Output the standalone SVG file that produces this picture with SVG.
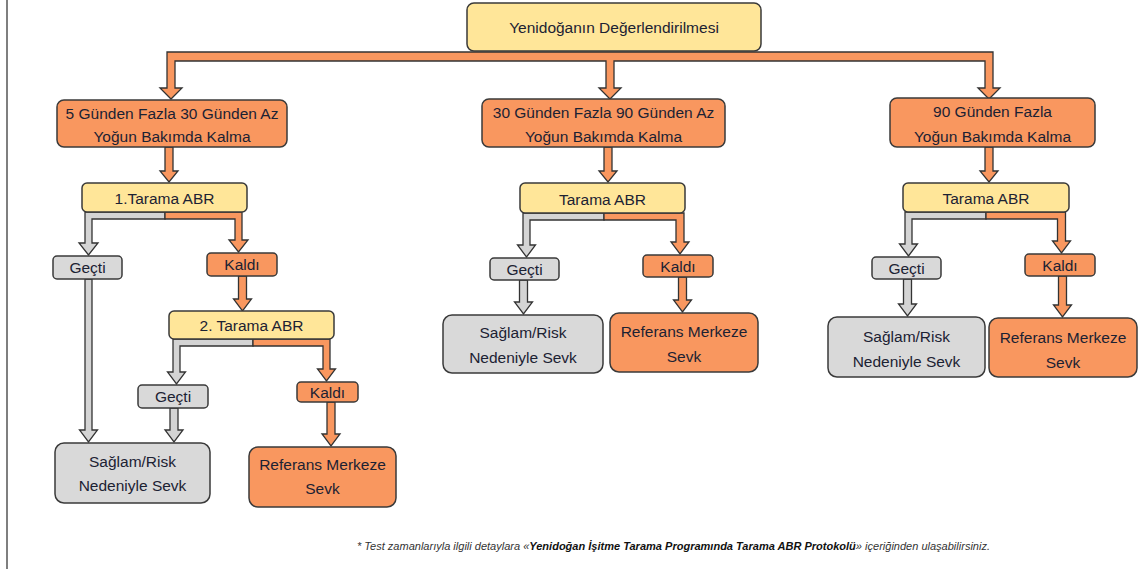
<svg xmlns="http://www.w3.org/2000/svg" width="1142" height="569" viewBox="0 0 1142 569">
<style>
.bx{stroke:#3a3a3a;stroke-width:1.5}
.y{fill:#FFE699}
.o{fill:#F9975F}
.g{fill:#D9D9D9}
.co{fill:#F9975F;stroke:#333;stroke-width:1.3;stroke-linejoin:miter}
.cg{fill:#D4D4D4;stroke:#333;stroke-width:1.3;stroke-linejoin:miter}
.t{font-family:"Liberation Sans",Arial,sans-serif;font-size:15.5px;fill:#1c2233;text-anchor:middle}
.fn{font-family:"Liberation Sans",Arial,sans-serif;font-size:10px;font-style:italic;fill:#333}
</style>
<rect width="1142" height="569" fill="#ffffff"/>
<line x1="7" y1="0" x2="7" y2="569" stroke="#555" stroke-width="1.5"/>
<g id="connectors">
<path class="co" d="M167 52 H993 V88 H1000 L989 99 L978 88 H985 V61 H614 V88 H621 L610 99 L599 88 H606 V61 H175 V88 H182 L171 99 L160 88 H167 Z"/>
<path class="co" d="M165 147 V171 H160 L169 182 L178 171 H173 V147 Z"/>
<path class="co" d="M604 147 V171 H599 L608 182 L617 171 H612 V147 Z"/>
<path class="co" d="M985 147 V171 H980 L989 182 L998 171 H993 V147 Z"/>
<path class="cg" d="M165 212 H85 V243 H79 L88.5 255 L98 243 H92 V219 H165 Z"/>
<path class="co" d="M165 212 H242 V240 H248 L238.5 252 L229 240 H235 V219 H165 Z"/>
<path class="cg" d="M85 279 V430 H79.5 L88.5 442 L97.5 430 H92 V279 Z"/>
<path class="co" d="M238.5 276 V299 H233.5 L242.5 311 L251.5 299 H246.5 V276 Z"/>
<path class="cg" d="M253 339 H173 V372 H167.5 L176.5 384 L185.5 372 H180 V346 H253 Z"/>
<path class="co" d="M253 339 H330 V369 H335.5 L326.5 381 L317.5 369 H323 V346 H253 Z"/>
<path class="cg" d="M170 408 V430 H165 L174 442 L183 430 H178 V408 Z"/>
<path class="co" d="M327 402 V434 H322 L331 446 L340 434 H335 V402 Z"/>
<path class="cg" d="M604 213 H523 V245 H517.5 L526.5 257 L535.5 245 H530 V220 H604 Z"/>
<path class="co" d="M604 213 H684 V242 H689 L680 254 L671 242 H676 V220 H604 Z"/>
<path class="cg" d="M519.5 280 V302 H514.5 L523.5 314 L532.5 302 H527.5 V280 Z"/>
<path class="co" d="M678.5 277 V300 H673.5 L682.5 312 L691.5 300 H686.5 V277 Z"/>
<path class="cg" d="M986 212 H905 V244 H899.5 L908.5 256 L917.5 244 H912 V219 H986 Z"/>
<path class="co" d="M986 212 H1065.5 V241 H1070.5 L1061.5 253 L1052.5 241 H1057.5 V219 H986 Z"/>
<path class="cg" d="M903.5 279 V304 H898.5 L907.5 316 L916.5 304 H911.5 V279 Z"/>
<path class="co" d="M1058.5 276 V305 H1053.5 L1062.5 317 L1071.5 305 H1066.5 V276 Z"/>
</g>
<g id="n-top"><rect class="bx y" x="467" y="3" width="294" height="48" rx="7"/><text class="t" x="614" y="33">Yenidoğanın Değerlendirilmesi</text></g>
<g id="n-l2-left"><rect class="bx o" x="57" y="100" width="230" height="47" rx="7"/><text class="t" x="172" y="119">5 Günden Fazla 30 Günden Az</text><text class="t" x="172" y="142">Yoğun Bakımda Kalma</text></g>
<g id="n-l2-mid"><rect class="bx o" x="482" y="99" width="243" height="48" rx="7"/><text class="t" x="603.5" y="118">30 Günden Fazla 90 Günden Az</text><text class="t" x="603.5" y="142">Yoğun Bakımda Kalma</text></g>
<g id="n-l2-right"><rect class="bx o" x="890" y="98" width="205" height="49" rx="7"/><text class="t" x="992.5" y="117">90 Günden Fazla</text><text class="t" x="992.5" y="142">Yoğun Bakımda Kalma</text></g>
<g id="n-t1-left"><rect class="bx y" x="82" y="183" width="165" height="29" rx="5"/><text class="t" x="164.5" y="204">1.Tarama ABR</text></g>
<g id="n-t-mid"><rect class="bx y" x="520" y="183" width="165" height="30" rx="5"/><text class="t" x="602.5" y="205">Tarama ABR</text></g>
<g id="n-t-right"><rect class="bx y" x="903" y="183" width="166" height="29" rx="5"/><text class="t" x="986" y="204">Tarama ABR</text></g>
<g id="n-gecti-left"><rect class="bx g" x="53" y="256" width="69" height="23" rx="4"/><text class="t" x="87.5" y="273">Geçti</text></g>
<g id="n-kaldi-left"><rect class="bx o" x="207" y="253" width="70" height="23" rx="4"/><text class="t" x="242" y="270">Kaldı</text></g>
<g id="n-t2-left"><rect class="bx y" x="169" y="311" width="165" height="28" rx="5"/><text class="t" x="251.5" y="331">2. Tarama ABR</text></g>
<g id="n-gecti2-left"><rect class="bx g" x="138" y="385" width="70" height="23" rx="4"/><text class="t" x="173" y="402">Geçti</text></g>
<g id="n-kaldi2-left"><rect class="bx o" x="297" y="382" width="61" height="20" rx="4"/><text class="t" x="327.5" y="398">Kaldı</text></g>
<g id="n-saglam-left"><rect class="bx g" x="55" y="443" width="155" height="60" rx="9"/><text class="t" x="132.5" y="467">Sağlam/Risk</text><text class="t" x="132.5" y="491">Nedeniyle Sevk</text></g>
<g id="n-ref-left"><rect class="bx o" x="249" y="447" width="147" height="60" rx="9"/><text class="t" x="322.5" y="470">Referans Merkeze</text><text class="t" x="322.5" y="494">Sevk</text></g>
<g id="n-gecti-mid"><rect class="bx g" x="490" y="258" width="69" height="22" rx="4"/><text class="t" x="524.5" y="275">Geçti</text></g>
<g id="n-kaldi-mid"><rect class="bx o" x="643" y="255" width="70" height="22" rx="4"/><text class="t" x="678" y="272">Kaldı</text></g>
<g id="n-saglam-mid"><rect class="bx g" x="443" y="315" width="160" height="58" rx="9"/><text class="t" x="523" y="338">Sağlam/Risk</text><text class="t" x="523" y="363">Nedeniyle Sevk</text></g>
<g id="n-ref-mid"><rect class="bx o" x="610" y="313" width="148" height="59" rx="9"/><text class="t" x="684" y="337">Referans Merkeze</text><text class="t" x="684" y="362">Sevk</text></g>
<g id="n-gecti-right"><rect class="bx g" x="872" y="257" width="69" height="22" rx="4"/><text class="t" x="906.5" y="274">Geçti</text></g>
<g id="n-kaldi-right"><rect class="bx o" x="1025" y="254" width="70" height="22" rx="4"/><text class="t" x="1060" y="271">Kaldı</text></g>
<g id="n-saglam-right"><rect class="bx g" x="828" y="317" width="157" height="60" rx="9"/><text class="t" x="906.5" y="342">Sağlam/Risk</text><text class="t" x="906.5" y="367">Nedeniyle Sevk</text></g>
<g id="n-ref-right"><rect class="bx o" x="989" y="318" width="148" height="59" rx="9"/><text class="t" x="1063" y="343">Referans Merkeze</text><text class="t" x="1063" y="368">Sevk</text></g>
<g id="footnote"><text class="fn" x="357" y="550" textLength="633" lengthAdjust="spacingAndGlyphs">* Test zamanlarıyla ilgili detaylara «<tspan font-weight="bold" fill="#111">Yenidoğan İşitme Tarama Programında Tarama ABR Protokolü</tspan>» içeriğinden ulaşabilirsiniz.</text></g>
</svg>
